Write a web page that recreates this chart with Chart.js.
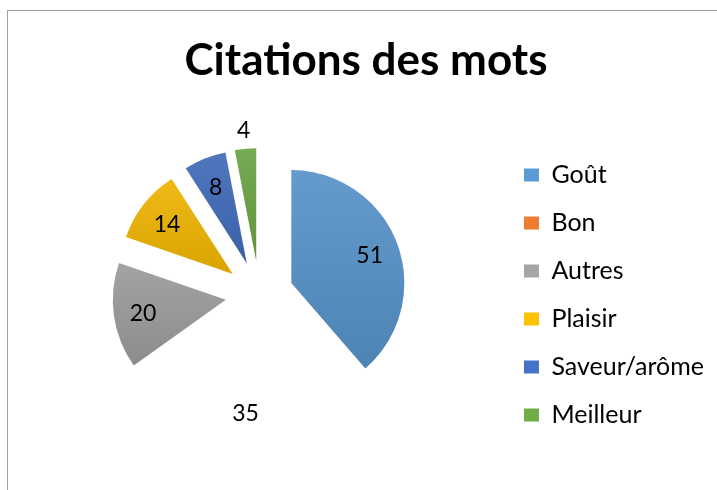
<!DOCTYPE html>
<html>
<head>
<meta charset="utf-8">
<script src="https://cdn.jsdelivr.net/npm/chart.js"></script>
<style>
    html, body { margin: 0; padding: 0; background: #fff; overflow: hidden; }
    #frame {
        position: absolute; left: 7px; top: 10px; width: 760px; height: 520px;
        border: 1px solid #a0a0a0; box-sizing: border-box;
    }
    #wrap { position: absolute; left: 4px; top: 11px; width: 724px; height: 480px; }
</style>
</head>
<body>
<div id="frame"></div>
<div id="wrap"><canvas id="chart"></canvas></div>
<script>
// Chart data
const categories = ['Goût', 'Bon', 'Autres', 'Plaisir', 'Saveur/arôme', 'Meilleur'];
const citations = [51, 35, 20, 14, 8, 4];
const sliceColors = ['#5B9BD5', '#ED7D31', '#A5A5A5', '#FFC000', '#4472C4', '#70AD47'];
// slices shown in the legend but drawn without fill
const noFill = ['Bon'];

const EXPLODE = 34;
const FONT = 'Lato, "Open Sans", sans-serif';

function mix(hex, target, t) {
    const n = parseInt(hex.slice(1), 16);
    const c = [(n >> 16) & 255, (n >> 8) & 255, n & 255];
    return 'rgb(' + c.map(v => Math.round(v + (target - v) * t)).join(',') + ')';
}

// Pie slice pulled out of the centre, filled with a vertical gradient
class ExplodedArc extends Chart.ArcElement {
    draw(ctx) {
        const {x, y, startAngle, endAngle, outerRadius, options} = this;
        const idx = this.$context ? this.$context.dataIndex : -1;
        if (idx < 0 || noFill.includes(categories[idx])) return;
        const mid = (startAngle + endAngle) / 2;
        const cx = x + Math.cos(mid) * EXPLODE;
        const cy = y + Math.sin(mid) * EXPLODE;
        let top = cy, bottom = cy;
        for (let a = startAngle; a <= endAngle; a += 0.02) {
            const py = cy + Math.sin(a) * outerRadius;
            top = Math.min(top, py);
            bottom = Math.max(bottom, py);
        }
        const base = options.backgroundColor;
        const grad = ctx.createLinearGradient(0, top, 0, bottom);
        grad.addColorStop(0, mix(base, 150, 0.15));
        grad.addColorStop(1, mix(base, 0, 0.15));
        ctx.save();
        ctx.beginPath();
        ctx.moveTo(cx, cy);
        ctx.arc(cx, cy, outerRadius, startAngle, endAngle);
        ctx.closePath();
        ctx.fillStyle = grad;
        ctx.fill();
        ctx.restore();
    }
}
ExplodedArc.id = 'explodedArc';
ExplodedArc.defaults = Chart.ArcElement.defaults;

class ExplodedPieController extends Chart.PieController {}
ExplodedPieController.id = 'explodedPie';
ExplodedPieController.defaults = Object.assign({}, Chart.PieController.defaults, {
    dataElementType: 'explodedArc'
});
ExplodedPieController.overrides = Chart.PieController.overrides;

Chart.register(ExplodedArc, ExplodedPieController);

// Value labels placed along the middle of each slice
const valueLabels = {
    id: 'valueLabels',
    afterDatasetsDraw(chart) {
        const ctx = chart.ctx;
        const meta = chart.getDatasetMeta(0);
        ctx.save();
        ctx.font = '23px ' + FONT;
        ctx.fillStyle = '#000';
        ctx.textAlign = 'center';
        ctx.textBaseline = 'middle';
        meta.data.forEach((arc, i) => {
            const mid = (arc.startAngle + arc.endAngle) / 2;
            const span = arc.endAngle - arc.startAngle;
            const r = span < 0.25 ? arc.outerRadius + 20 : arc.outerRadius * 0.74;
            const d = EXPLODE + r;
            ctx.fillText(String(citations[i]), arc.x + Math.cos(mid) * d, arc.y + Math.sin(mid) * d + 2);
        });
        ctx.restore();
    }
};

new Chart(document.getElementById('chart'), {
    type: 'explodedPie',
    data: {
        labels: categories,
        datasets: [{
            data: citations,
            backgroundColor: sliceColors,
            borderWidth: 0
        }]
    },
    options: {
        responsive: true,
        maintainAspectRatio: false,
        animation: false,
        radius: 113,
        layout: { padding: { left: 14, right: 14, top: 0, bottom: 0 } },
        plugins: {
            title: {
                display: true,
                text: 'Citations des mots',
                color: '#000',
                font: { family: FONT, size: 44, weight: 'bold', lineHeight: 1.2 },
                padding: { top: 23, bottom: 12.2 }
            },
            legend: {
                position: 'right',
                fullSize: false,
                labels: {
                    color: '#000',
                    font: { family: FONT, size: 25 },
                    boxWidth: 15,
                    boxHeight: 13,
                    padding: 23
                }
            },
            tooltip: { enabled: false }
        }
    },
    plugins: [valueLabels]
});
</script>
</body>
</html>
